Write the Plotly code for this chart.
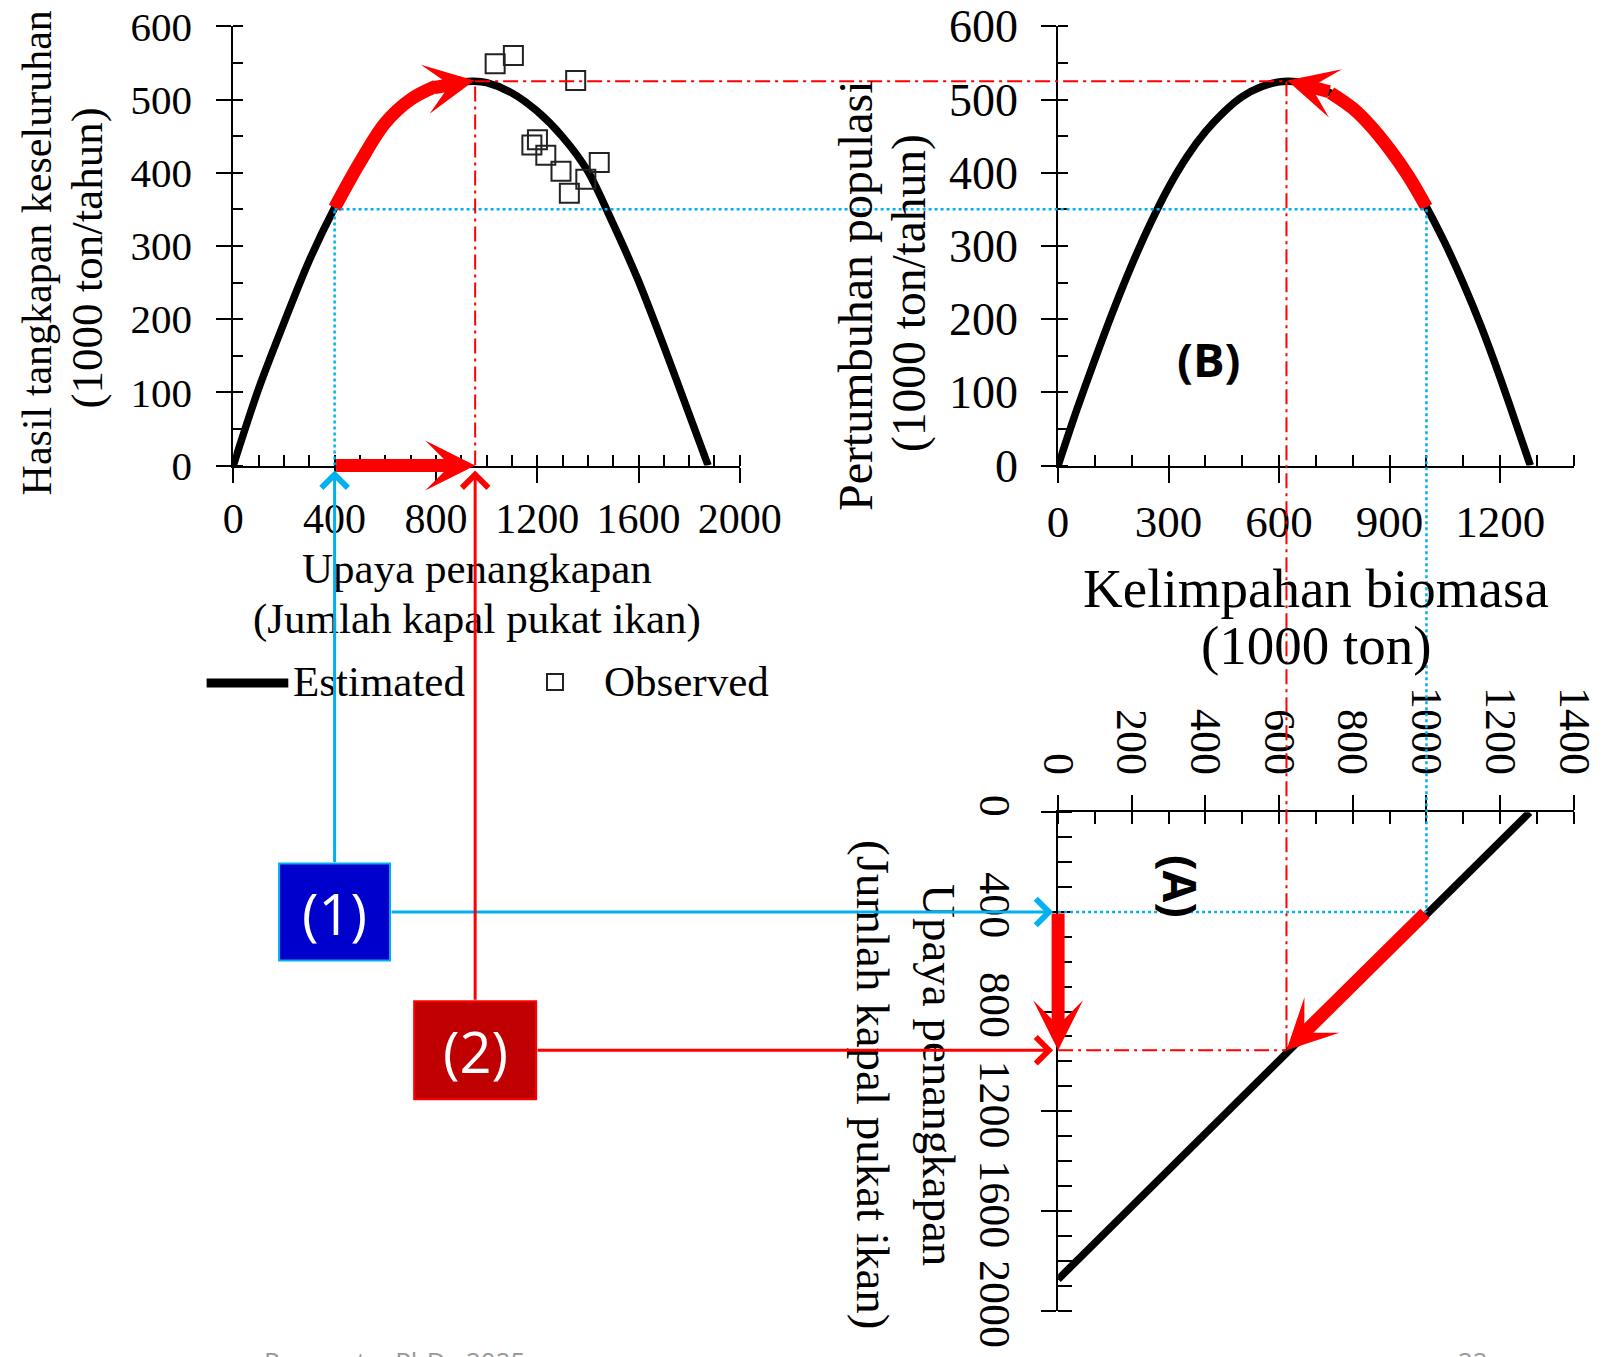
import plotly.graph_objects as go

W, H = 1621, 1357

# ---------------- data ----------------
effort_est = [0, 100, 200, 300, 400, 500, 600, 700, 800, 900, 950, 1000, 1100, 1200, 1300, 1400, 1500, 1600, 1700, 1800, 1875]
catch_est = [0, 105, 195, 280, 352, 414, 468, 500, 518, 524, 525, 523, 509, 484, 449, 402, 330, 252, 163, 70, 0]

effort_obs = [1034, 1106, 1352, 1201, 1179, 1234, 1294, 1445, 1392, 1327]
catch_obs = [549, 560, 526, 445, 438, 424, 402, 414, 391, 372]

biomass_est = [0, 50, 100, 150, 200, 250, 300, 350, 400, 450, 500, 550, 600, 625, 650, 700, 750, 800, 850, 900, 950, 1000, 1050, 1100, 1150, 1200, 1250, 1282]
growth_est = [0, 75, 145, 212, 274, 330, 380, 422, 456, 483, 504, 517, 524, 525, 524, 518, 506, 488, 463, 432, 396, 353, 304, 249, 188, 120, 47, 0]

effort_lineA = [0, 1875]
biomass_lineA = [1280, 0]

# state (1) = current, state (2) = MSY
effort_state = [400, 955]
catch_state = [350, 525]
biomass_state = [1000, 620]

red_path1_effort = [400, 500, 600, 700, 800]
red_path1_catch = [352, 414, 468, 500, 518]
red_head1_tail = [790, 516]
red_head1_tip = [952, 526]

red_pathB_biomass = [1000, 950, 900, 850, 800, 740]
red_pathB_growth = [353, 396, 432, 463, 488, 509]
red_headB_tail = [740, 510]
red_headB_tip = [622, 526]

effort_ticks = [0, 400, 800, 1200, 1600, 2000]
catch_ticks = [0, 100, 200, 300, 400, 500, 600]
biomassB_ticks = [0, 300, 600, 900, 1200]
biomassA_ticks = [0, 200, 400, 600, 800, 1000, 1200, 1400]

# ---------------- geometry (pixels) ----------------
X1_PX = (233.3, 739.8)
XB_PX = (1058.1, 1573.8)
YT_PX = (465.5, 26.3)     # pixel of 0 and 600 (top row)
YA_PX = (812.3, 1310.5)   # pixel of effort 0 and 2000 (panel A)
X1_RANGE = (0, 2000)
XB_RANGE = (0, 1400)
YT_RANGE = (0, 600)
YA_RANGE = (0, 2000)


def lin(v, rng, px):
    return px[0] + (v - rng[0]) / (rng[1] - rng[0]) * (px[1] - px[0])


def px_x1(v): return lin(v, X1_RANGE, X1_PX)
def px_xb(v): return lin(v, XB_RANGE, XB_PX)
def px_yt(v): return lin(v, YT_RANGE, YT_PX)
def px_ya(v): return lin(v, YA_RANGE, YA_PX)
def pxx(p): return p / W
def pxy(p): return 1 - p / H


SERIF = "Liberation Serif"
SANS = "Open Sans"
BLUE = "#00B0F0"
RED = "#FF0000"

fig = go.Figure()

# chart 1
fig.add_trace(go.Scatter(x=effort_est, y=catch_est, mode="lines", xaxis="x", yaxis="y",
                         line=dict(color="black", width=7.5, shape="spline", smoothing=0.8),
                         hoverinfo="skip", showlegend=False))
fig.add_trace(go.Scatter(x=red_path1_effort, y=red_path1_catch, mode="lines", xaxis="x", yaxis="y",
                         line=dict(color=RED, width=13, shape="spline"), hoverinfo="skip", showlegend=False))
fig.add_trace(go.Scatter(x=effort_obs, y=catch_obs, mode="markers", xaxis="x", yaxis="y",
                         marker=dict(symbol="square-open", size=19, color="#222222", line=dict(width=2)),
                         hoverinfo="skip", showlegend=False, cliponaxis=False))
# chart B
fig.add_trace(go.Scatter(x=biomass_est, y=growth_est, mode="lines", xaxis="x2", yaxis="y2",
                         line=dict(color="black", width=7.5, shape="spline", smoothing=0.8),
                         hoverinfo="skip", showlegend=False))
fig.add_trace(go.Scatter(x=red_pathB_biomass, y=red_pathB_growth, mode="lines", xaxis="x2", yaxis="y2",
                         line=dict(color=RED, width=13, shape="spline"), hoverinfo="skip", showlegend=False))
# panel A
fig.add_trace(go.Scatter(x=biomass_lineA, y=effort_lineA, mode="lines", xaxis="x3", yaxis="y3",
                         line=dict(color="black", width=7.5), hoverinfo="skip", showlegend=False))


def axis(rng, dom, tickvals, minor_dtick, minor_len, size, **kw):
    d = dict(range=list(rng), domain=dom, showline=True, linecolor="black", linewidth=2,
             tickmode="array", tickvals=tickvals, ticktext=[str(t) for t in tickvals],
             ticks="outside", ticklen=15, tickwidth=2, tickcolor="black",
             minor=dict(ticks="inside", ticklen=minor_len, tickwidth=2, tickcolor="black",
                        tickmode="linear", tick0=0, dtick=minor_dtick),
             showgrid=False, zeroline=False, fixedrange=True, automargin=False,
             tickfont=dict(family=SERIF, size=size, color="black"))
    d.update(kw)
    return d


dom_x1 = [pxx(X1_PX[0]), pxx(X1_PX[1])]
dom_xb = [pxx(XB_PX[0]), pxx(XB_PX[1])]
dom_yt = [pxy(YT_PX[0]), pxy(YT_PX[1])]
dom_ya = [pxy(YA_PX[1]), pxy(YA_PX[0])]

fig.update_layout(
    xaxis=axis(X1_RANGE, dom_x1, effort_ticks, 100, 11, 42, anchor="y"),
    yaxis=axis(YT_RANGE, dom_yt, catch_ticks, 50, 10, 41, anchor="x", ticklabelstandoff=16),
    xaxis2=axis(XB_RANGE, dom_xb, biomassB_ticks, 100, 11, 45, anchor="y2"),
    yaxis2=axis(YT_RANGE, dom_yt, catch_ticks, 50, 10, 46, anchor="x2", ticklabelstandoff=14),
    xaxis3=axis(XB_RANGE, dom_xb, biomassA_ticks, 100, 12, 44, anchor="y3", side="top", tickangle=90,
                ticklabelstandoff=5),
    yaxis3=axis((YA_RANGE[1], YA_RANGE[0]), dom_ya, effort_ticks, 100, 14, 44, anchor="x3", tickangle=90,
                ticklabelstandoff=8),
)

# ---------------- guide lines ----------------
dot = dict(color=BLUE, width=2.5, dash="3px,3px")
dd = dict(color=RED, width=2, dash="15px,5px,3px,5px")
shapes = []
for i, st in enumerate([dot, dd]):
    E, C, B = effort_state[i], catch_state[i], biomass_state[i]
    shapes += [
        dict(type="line", xref="paper", yref="y", x0=pxx(px_x1(E)), x1=pxx(px_xb(B)), y0=C, y1=C, line=st, layer="above"),
        dict(type="line", xref="x", yref="y", x0=E, x1=E, y0=0, y1=C, line=st, layer="above"),
        dict(type="line", xref="x2", yref="paper", x0=B, x1=B, y0=pxy(px_yt(C)), y1=pxy(px_ya(E)), line=st, layer="above"),
        dict(type="line", xref="x3", yref="y3", x0=0, x1=B, y0=E, y1=E, line=st, layer="above"),
    ]

# boxes (1) and (2)
box_half = [(55.5, 48.5), (61, 49)]
box_fill = ["#0000CC", "#C00000"]
box_line = [BLUE, RED]
box_text = ["(1)", "(2)"]
boxes = []
for i in range(2):
    cx, cy = px_x1(effort_state[i]), px_ya(effort_state[i])
    hw, hh = box_half[i]
    boxes.append((cx, cy, hw, hh))
    shapes.append(dict(type="rect", xref="paper", yref="paper", x0=pxx(cx - hw), x1=pxx(cx + hw),
                       y0=pxy(cy + hh), y1=pxy(cy - hh), fillcolor=box_fill[i],
                       line=dict(color=box_line[i], width=2), layer="above"))

# legend pieces
shapes.append(dict(type="line", xref="paper", yref="paper", x0=pxx(206.6), x1=pxx(288.3), y0=pxy(683), y1=pxy(683),
                   line=dict(color="black", width=9), layer="above"))
shapes.append(dict(type="rect", xref="paper", yref="paper", x0=pxx(547), x1=pxx(563), y0=pxy(690), y1=pxy(674),
                   line=dict(color="#222222", width=2), fillcolor="rgba(0,0,0,0)", layer="above"))

# ---------------- annotations ----------------
ann = []


def txt(t, cx, cy, size, angle=0, family=SERIF, color="black", xanchor="center", yanchor="middle"):
    return dict(text=t, x=pxx(cx), y=pxy(cy), xref="paper", yref="paper", showarrow=False, textangle=angle,
                font=dict(family=family, size=size, color=color), xanchor=xanchor, yanchor=yanchor)


ann += [
    txt("Hasil tangkapan keseluruhan", 37.4, 253, 42, -90),
    txt("(1000 ton/tahun)", 87.4, 258, 45, -90),
    txt("Upaya penangkapan", 477, 568.4, 43),
    txt("(Jumlah kapal pukat ikan)", 476.5, 619, 43),
    txt("Estimated", 291, 681, 43, xanchor="left"),
    txt("Observed", 602, 681, 43, xanchor="left"),
    txt("Pertumbuhan populasi", 855, 296, 48, -90),
    txt("(1000 ton/tahun)", 910, 293, 47.5, -90),
    txt("Kelimpahan biomasa", 1316, 588, 55),
    txt("(1000 ton)", 1316, 646, 55),
    txt("<b>(B)</b>", 1208.6, 359, 47, family=SANS),
    txt("<b>(A)</b>", 1181, 886, 46, 90, family=SANS),
    txt("Upaya penangkapan", 939, 1075, 47, 90),
    txt("(Jumlah kapal pukat ikan)", 873, 1084, 47, 90),
    txt("Purwanto, PhD., 2025", 262, 1341, 26, family=SANS, color="#999999", xanchor="left", yanchor="top"),
    txt("22", 1456, 1341, 26, family=SANS, color="#999999", xanchor="left", yanchor="top"),
]
for i in range(2):
    cx, cy, hw, hh = boxes[i]
    ann.append(txt(box_text[i], cx, cy + 1, 56, family=SANS, color="white"))

big = dict(text="", showarrow=True, arrowhead=3, arrowsize=0.64, arrowwidth=13, arrowcolor=RED,
           standoff=0, font=dict(size=1))
ann += [
    dict(x=red_head1_tip[0], y=red_head1_tip[1], ax=red_head1_tail[0], ay=red_head1_tail[1],
         xref="x", yref="y", axref="x", ayref="y", **big),
    dict(x=effort_state[1], y=0, ax=effort_state[0], ay=0, xref="x", yref="y", axref="x", ayref="y", **big),
    dict(x=red_headB_tip[0], y=red_headB_tip[1], ax=red_headB_tail[0], ay=red_headB_tail[1],
         xref="x2", yref="y2", axref="x2", ayref="y2", **big),
    dict(x=0, y=effort_state[1], ax=0, ay=effort_state[0], xref="x3", yref="y3", axref="x3", ayref="y3", **big),
    dict(x=biomass_state[1], y=effort_state[1], ax=biomass_state[0], ay=effort_state[0],
         xref="x3", yref="y3", axref="x3", ayref="y3", **big),
]

thin = dict(text="", showarrow=True, arrowhead=4, arrowsize=1.7, arrowwidth=3, standoff=5, font=dict(size=1))
cols = [BLUE, RED]
for i in range(2):
    cx, cy, hw, hh = boxes[i]
    ann.append(dict(x=effort_state[i], y=0, xref="x", yref="y", ax=0, ay=(cy - hh) - px_yt(0),
                    axref="pixel", ayref="pixel", arrowcolor=cols[i], **thin))
    ann.append(dict(x=0, y=effort_state[i], xref="x3", yref="y3", ax=(cx + hw) - XB_PX[0], ay=0,
                    axref="pixel", ayref="pixel", arrowcolor=cols[i], **thin))

fig.update_layout(
    width=W, height=H, autosize=False,
    margin=dict(l=0, r=0, t=0, b=0, pad=0, autoexpand=False),
    paper_bgcolor="white", plot_bgcolor="rgba(0,0,0,0)",
    showlegend=False, shapes=shapes, annotations=ann,
)

fig.write_html("out.html", config={"displayModeBar": False},
               post_script="document.body.style.margin='0';document.body.style.overflow='hidden';")
